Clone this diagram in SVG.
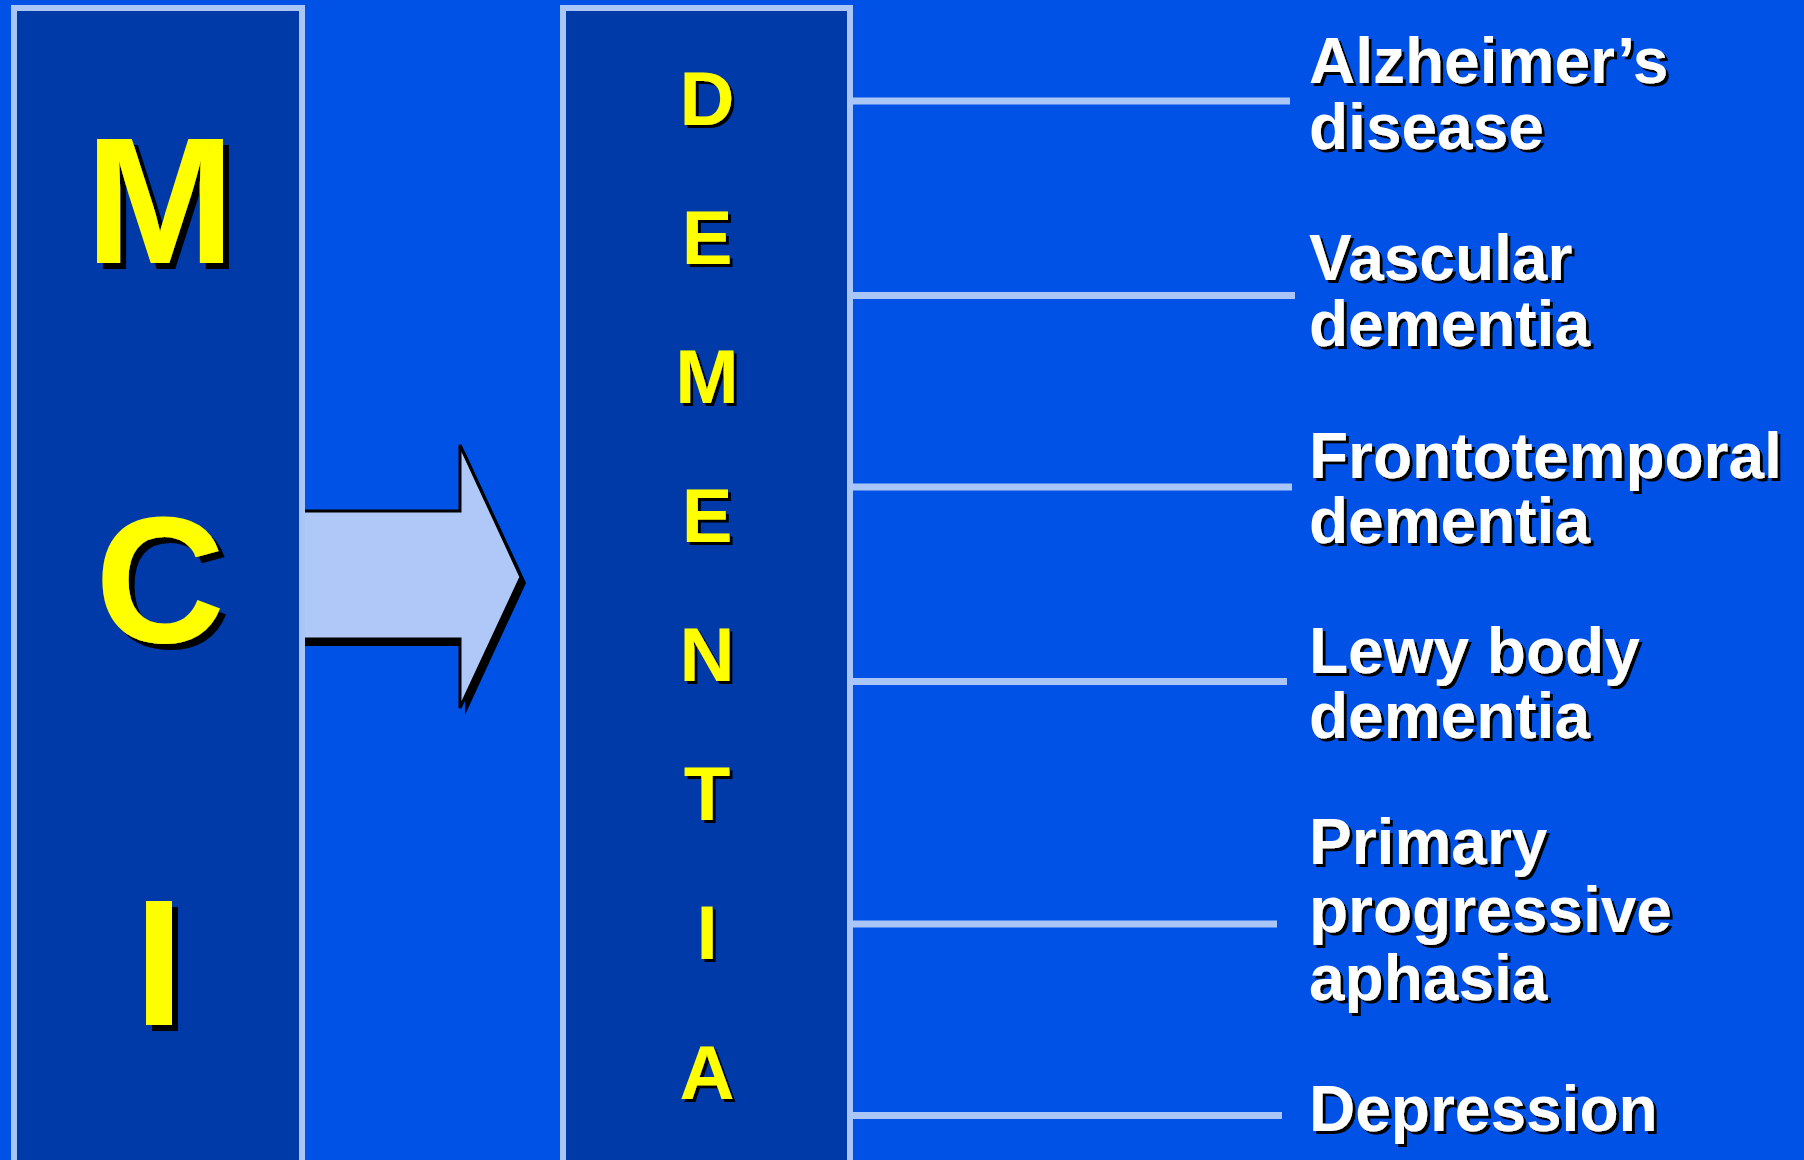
<svg xmlns="http://www.w3.org/2000/svg" width="1804" height="1160" viewBox="0 0 1804 1160">
<defs>
<filter id="shBig" x="-20%" y="-20%" width="150%" height="150%"><feDropShadow dx="6" dy="6" stdDeviation="0.6" flood-color="#000" flood-opacity="1"/></filter>
<filter id="shSm" x="-20%" y="-20%" width="150%" height="150%"><feDropShadow dx="3" dy="3" stdDeviation="0.6" flood-color="#000" flood-opacity="1"/></filter>
</defs>
<style>
.box{fill:#0039A8;stroke:#A9C6F7;stroke-width:6}
.big{font-family:"Liberation Sans",Arial,sans-serif;font-weight:bold;font-size:180px;fill:#FFFF00;text-anchor:middle;filter:url(#shBig)}
.let{font-family:"Liberation Sans",Arial,sans-serif;font-weight:bold;font-size:76px;fill:#FFFF00;text-anchor:middle;filter:url(#shSm)}
.lbl{font-family:"Liberation Sans",Arial,sans-serif;font-weight:bold;font-size:64px;fill:#FFFFFF;filter:url(#shSm)}
.con{stroke:#A9C6F7;stroke-width:7;fill:none}
</style>
<rect x="0" y="0" width="1804" height="1160" fill="#0052E6"/>

<g id="arrow">
<polygon points="300,518 465,518 465,452 526,583 465,715 465,646 300,646" fill="#000"/>
<polygon points="300,511 460,511 460,445 521,577 460,708 460,639 300,639" fill="#AFC8F7"/>
<polyline points="300,511 460,511 460,445 521,577 460,708 460,639 300,639" fill="none" stroke="#000" stroke-width="3" stroke-linejoin="miter"/>
</g>

<g id="mci">
<rect class="box" x="14" y="8" width="288" height="1170"/>
<text class="big" x="160" y="263">M</text>
<text class="big" x="160" y="642">C</text>
<text class="big" x="159" y="1025">I</text>
</g>

<g id="dementia">
<rect class="box" x="563" y="8" width="287" height="1170"/>
<text class="let" x="707" y="125">D</text>
<text class="let" x="707" y="264">E</text>
<text class="let" x="707" y="403">M</text>
<text class="let" x="707" y="542">E</text>
<text class="let" x="707" y="681">N</text>
<text class="let" x="707" y="820">T</text>
<text class="let" x="707" y="959">I</text>
<text class="let" x="707" y="1099">A</text>
</g>

<g id="connectors">
<line class="con" x1="853" y1="101" x2="1290" y2="101"/>
<line class="con" x1="853" y1="295.5" x2="1295" y2="295.5"/>
<line class="con" x1="853" y1="487" x2="1292" y2="487"/>
<line class="con" x1="853" y1="681.5" x2="1287" y2="681.5"/>
<line class="con" x1="853" y1="924" x2="1277" y2="924"/>
<line class="con" x1="853" y1="1115.5" x2="1282" y2="1115.5"/>
</g>

<g id="alzheimers"><text class="lbl" x="1309" y="83">Alzheimer’s<tspan x="1309" y="149">disease</tspan></text></g>
<g id="vascular"><text class="lbl" x="1309" y="280">Vascular<tspan x="1309" y="346">dementia</tspan></text></g>
<g id="ftd"><text class="lbl" x="1309" y="478">Frontotemporal<tspan x="1309" y="543">dementia</tspan></text></g>
<g id="lewy"><text class="lbl" x="1309" y="673">Lewy body<tspan x="1309" y="738">dementia</tspan></text></g>
<g id="ppa"><text class="lbl" x="1309" y="864">Primary<tspan x="1309" y="932">progressive</tspan><tspan x="1309" y="1000">aphasia</tspan></text></g>
<g id="depression"><text class="lbl" x="1309" y="1131">Depression</text></g>
</svg>
